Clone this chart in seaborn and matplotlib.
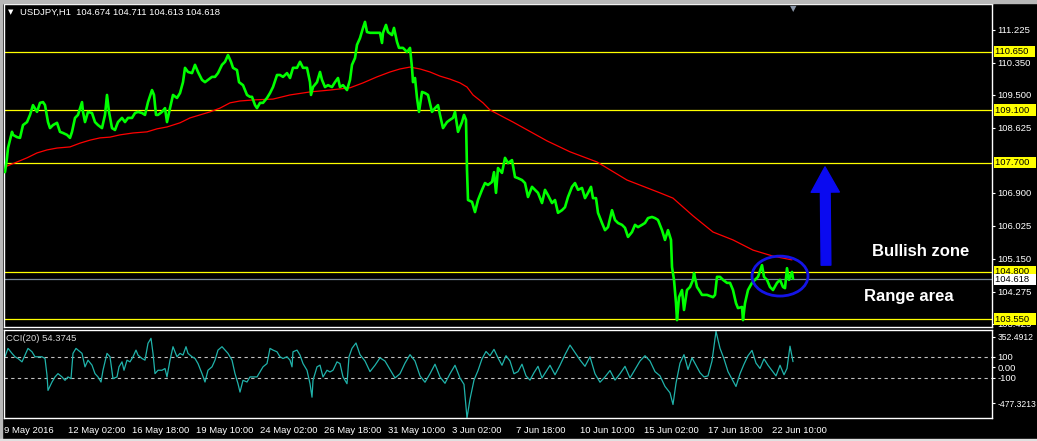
import matplotlib
matplotlib.use("Agg")
import matplotlib.pyplot as plt
from matplotlib.patches import Ellipse, Rectangle
from matplotlib.transforms import blended_transform_factory
import pandas as pd
import seaborn as sns

# hourly bars counted from the chart origin (left edge of the window)
hours = [5, 7, 8, 10, 12, 13, 17, 20, 23, 27, 30, 33, 37, 40, 43, 45, 48, 50, 53, 57,
         60, 63, 67, 70, 72, 75, 78, 82, 83, 85, 88, 92, 95, 98, 102, 105, 107, 109, 112, 115,
         118, 122, 125, 128, 132, 135, 138, 142, 145, 148, 152, 154, 156, 158, 162, 165, 167, 170, 173, 177,
         180, 183, 185, 188, 192, 195, 198, 202, 205, 208, 212, 215, 218, 222, 225, 228, 231, 233, 237, 239,
         243, 247, 250,
         252, 255, 257, 260, 263, 267, 270, 273, 277, 280, 283, 287, 290, 293, 297, 300, 303, 307, 310, 311,
         313, 317, 320, 322, 325, 328, 332, 335, 338, 340, 343, 347, 350, 352, 355, 357, 360, 363, 365, 367,
         370, 373, 377, 380, 382, 383, 386, 388, 392, 394, 397, 399, 403, 407, 410, 412, 413, 415, 417, 419,
         422, 425, 428, 432, 435, 438, 440, 443, 447, 450, 453, 455, 458, 462, 464, 466, 467,
         468, 472, 475, 478, 482, 485, 488, 492, 494, 496, 498, 502, 505, 508, 512, 515, 518, 522, 525, 528,
         532, 535, 538, 542, 545, 548, 552, 555, 558, 562, 565, 568, 572, 575, 578, 582, 585, 588, 591, 593,
         596, 598, 602, 605, 608, 612, 615, 618, 622, 625, 628, 632, 635, 638, 642, 645, 648, 652, 655, 658,
         662, 665, 668, 671, 672,
         674, 676, 677, 679, 682, 684, 687, 690, 693, 694, 697, 699, 702, 707, 713, 715, 717, 720, 723, 727,
         730, 733, 736, 738, 742, 743, 745, 748, 752, 755, 758, 762, 764, 767, 770, 773, 777, 780, 783, 785,
         787, 789, 792, 793]
close = [107.45, 107.83, 108.09, 108.30, 108.52, 108.44, 108.38, 108.36, 108.70, 108.78,
         108.97, 109.23, 109.05, 109.29, 109.31, 109.23, 108.78, 108.62, 108.70, 108.76,
         108.52, 108.49, 108.44, 108.36, 108.52, 108.89, 108.97, 109.31, 109.05, 108.78,
         109.05, 109.02, 108.78, 108.70, 108.62, 108.97, 109.50, 109.05, 108.62, 108.57,
         108.78, 108.89, 108.78, 108.89, 108.89, 109.02, 109.05, 109.02, 108.97, 109.31,
         109.63, 109.50, 108.97, 108.97, 109.05, 109.15, 108.78, 109.15, 109.50, 109.42,
         109.55, 109.84, 110.22, 110.11, 110.08, 110.30, 110.11, 109.90, 109.84, 109.90,
         109.98, 109.98, 110.08, 110.30, 110.38, 110.56, 110.38, 110.22, 110.16, 109.84,
         109.76, 109.50, 109.45,
         109.45, 109.23, 109.15, 109.29, 109.29, 109.42, 109.55, 109.71, 110.03, 110.03,
         109.98, 110.08, 109.95, 110.22, 110.22, 110.38, 110.22, 110.22, 109.84, 109.50,
         109.71, 109.84, 110.11, 109.90, 109.71, 109.76, 109.71, 109.84, 109.95, 109.71,
         109.76, 109.63, 109.90, 110.30, 110.48, 110.83, 111.01, 111.28, 111.44, 111.17,
         111.15, 111.15, 111.15, 111.15, 110.88, 111.15, 111.36, 111.17, 111.09, 111.28,
         110.91, 110.75, 110.75, 110.64, 110.75, 110.22, 109.84, 109.95, 109.42, 109.05,
         109.58, 109.55, 109.50, 109.05, 109.15, 109.23, 108.97, 108.62, 108.78, 108.84,
         108.89, 109.05, 108.52, 108.78, 108.97, 108.84, 107.51,
         106.71, 106.66, 106.39, 106.71, 106.98, 107.16, 107.11, 107.19, 107.45, 106.90,
         107.56, 107.43, 107.83, 107.69, 107.77, 107.32, 107.29, 107.24, 107.16, 106.79,
         107.06, 106.98, 106.90, 106.63, 106.98, 106.84, 106.63, 106.71, 106.37, 106.44,
         106.52, 106.79, 107.06, 107.16, 106.98, 107.03, 106.76, 106.90, 107.06, 106.76,
         106.76, 106.37, 106.10, 105.91, 105.99, 106.44, 106.18, 106.10, 106.05, 105.97,
         105.73, 105.86, 106.05, 105.99, 106.05, 106.10, 106.23, 106.26, 106.23, 106.18,
         105.91, 105.65, 105.91, 105.65, 104.93,
         104.59, 103.97, 103.52, 104.13, 104.32, 103.79, 104.32, 104.40, 104.59, 104.77,
         104.40, 104.32, 104.19, 104.19, 104.13, 104.19, 104.67, 104.67, 104.59, 104.51,
         104.51, 104.32, 103.97, 103.84, 103.87, 103.52, 103.97, 104.32, 104.51, 104.59,
         104.67, 104.98, 104.67, 104.59, 104.40, 104.32, 104.51, 104.59, 104.40, 104.37,
         104.90, 104.59, 104.80, 104.618]

# moving average (red)
ma_hours = [5, 17, 27, 37, 47, 57, 70, 80, 90, 100, 110, 120, 133, 147, 157, 167, 180, 190, 200, 210,
            220, 230, 240, 255, 273, 290, 310, 330, 350, 363, 377, 390, 400, 410, 420, 430, 440, 450, 460, 467,
            473, 483, 490, 513, 547, 570, 597, 627, 660, 673, 693, 713, 733, 753, 773, 792]
ma_values = [107.59, 107.72, 107.83, 107.96, 108.04, 108.09, 108.12, 108.22, 108.30, 108.36,
             108.38, 108.44, 108.49, 108.52, 108.60, 108.65, 108.76, 108.89, 108.97, 109.05,
             109.15, 109.29, 109.34, 109.37, 109.39, 109.50, 109.58, 109.63, 109.69, 109.82,
             109.98, 110.11, 110.19, 110.24, 110.19, 110.11, 110.00, 109.92, 109.82, 109.71,
             109.50, 109.29, 109.10, 108.78, 108.28, 107.99, 107.72, 107.24, 106.90, 106.76,
             106.29, 105.86, 105.65, 105.38, 105.22, 105.12]

# CCI(20)
cci_hours = [5, 8, 12, 15, 18, 22, 25, 28, 32, 35, 38, 42, 45, 47, 48, 52, 55, 58, 62, 65,
             68, 71, 73, 76, 78, 82, 85, 88, 92, 95, 98, 101, 103, 107, 110, 113, 117, 119, 122, 124,
             127, 130, 133, 136, 138, 142, 145, 148, 151, 153, 155, 158, 162, 165, 167, 170, 173, 177, 180, 183,
             186, 188, 192, 195, 198, 202, 205, 208, 212, 215, 218, 222, 225, 228, 232, 235, 238, 240, 243, 247,
             250, 253, 257, 260, 263, 267, 270, 273, 277, 280, 283, 287, 290, 292, 293, 297, 300, 303, 307, 310,
             312, 313, 317, 320, 323, 327, 330, 333, 337, 340, 343, 347,
             349, 352, 356, 360, 365, 370, 375, 380, 385, 390, 395, 400, 405, 410, 415, 420, 425, 430, 435, 440,
             445, 450, 455, 460, 464, 467, 470, 474, 478, 482, 486, 490, 494, 498, 502, 506, 510, 514, 518, 522,
             526, 530, 534, 538, 542, 546, 550, 555, 560, 565, 570, 575, 580, 585, 590, 595, 600, 605, 610, 615,
             620, 625, 630, 635, 640, 645, 650, 655, 660, 665, 670, 673, 676, 680, 684, 688, 692, 696, 700, 704,
             708, 712, 716, 720, 724, 728, 732, 736, 740, 744, 748, 752, 756, 760, 764, 768, 772, 776, 780, 784,
             787, 790, 793]
cci_values = [100, 179, 132, 100, 84, 52, 116, 179, 147, 100,
              100, 100, 84, -74, -217, -138, -90, -59, -90, -122,
              -90, -106, 132, 179, 163, 132, 5, 68, 21, -59,
              -90, -138, -27, 132, 100, -106, -90, 5, 52, -27,
              68, 52, 100, 163, 116, 84, 68, 227, 274, 132,
              -59, -27, -27, -11, -90, 68, 195, 100, 132, 116,
              195, 132, 100, 84, 36, -59, -138, -27, 5, 68,
              163, 195, 163, 132, 68, -59, -154, -233, -122, -138,
              -90, -90, -90, -43, 5, 36, 179, 163, 147, 100,
              84, 100, 68, 5, 147, 163, 116, 36, -27, -154,
              -281, -122, 5, 21, -90, -27, -43, -27, 52, 36,
              -90, -154,
              100, 180, 230, 120, 60, -40, 20, 90, 60, -20,
              -100, -60, 40, 120, 60, -80, -140, -60, 30, -90,
              -150, -60, 20, -100, -160, -477, -300, -120, -30, 80,
              150, 110, 170, 90, 20, 110, 60, -60, -40, 30,
              -80, -120, -50, 10, -100, -40, 20, -70, 20, 120,
              210, 140, 70, 10, 100, -60, -140, -90, -30, -120,
              -60, 10, -100, -20, 60, 110, 60, -40, -80, -180,
              -240, -350, -150, 40, 120, -20, 90, 20, -50, -90,
              -80, 60, 340, 180, 80, -40, -110, -180, -60, 30,
              110, 160, 40, -10, 80, 20, -30, -80, 20, -70,
              -10, 200, 54]

levels = [110.650, 109.100, 107.700, 104.800, 103.550]
bid = 104.618
price_ticks = [111.225, 110.350, 109.500, 108.625, 106.900, 106.025, 105.150, 104.275, 103.425]
cci_levels = [100, -100]
cci_max, cci_min = 352.4912, -477.3213

tick_hours = [4, 68, 132, 196, 260, 324, 388, 452, 516, 580, 644, 708, 772]
tick_labels = ["9 May 2016", "12 May 02:00", "16 May 18:00", "19 May 10:00", "24 May 02:00",
               "26 May 18:00", "31 May 10:00", "3 Jun 02:00", "7 Jun 18:00", "10 Jun 10:00",
               "15 Jun 02:00", "17 Jun 18:00", "22 Jun 10:00"]

price = pd.DataFrame({"hour": hours, "close": close})
ma = pd.DataFrame({"hour": ma_hours, "ma": ma_values})
cci = pd.DataFrame({"hour": cci_hours, "cci": cci_values})

sns.set_theme(style="dark", rc={
    "axes.facecolor": "black", "figure.facecolor": "black",
    "axes.edgecolor": "white", "text.color": "white",
    "xtick.color": "white", "ytick.color": "white", "axes.grid": False,
})
plt.rcParams["font.family"] = ["Liberation Sans", "DejaVu Sans"]

W, H = 1037, 441
fig = plt.figure(figsize=(W / 100, H / 100), dpi=100)
ax = fig.add_axes([4 / W, 1 - 327 / H, 988 / W, 323 / H])
cax = fig.add_axes([4 / W, 1 - 418 / H, 988 / W, 88 / H])

# window chrome
fig.patches.append(Rectangle((0, 1 - 3 / H), 1, 3 / H, transform=fig.transFigure, color="#b8b8b8", zorder=0))
fig.patches.append(Rectangle((0, 0), 2 / W, 1, transform=fig.transFigure, color="#b8b8b8", zorder=0))
fig.patches.append(Rectangle((0, 0), 1, 2 / H, transform=fig.transFigure, color="#e0e0e0", zorder=0))

# main price panel
for lvl in levels:
    ax.axhline(lvl, color="#ffff00", lw=0.9, zorder=1)
ax.axhline(bid, color="#778899", lw=0.9, zorder=1)
sns.lineplot(data=ma, x="hour", y="ma", ax=ax, color="#ff0000", lw=0.9,
             estimator=None, sort=False, zorder=2)
sns.lineplot(data=price, x="hour", y="close", ax=ax, color="#00ff00", lw=1.9,
             estimator=None, sort=False, zorder=3)

ax.set_xlim(4, 992)
ax.set_ylim(103.338, 111.915)
ax.set_xticks([])
ax.set_xlabel("")
ax.set_ylabel("")
ax.yaxis.tick_right()
ax.set_yticks(price_ticks)
ax.set_yticklabels([f"{t:.3f}" for t in price_ticks])
ax.tick_params(axis="y", colors="white", labelsize=6.8, length=2.5, width=0.8, pad=1.5)
for s in ax.spines.values():
    s.set_color("white")
    s.set_linewidth(1)

tr = blended_transform_factory(ax.transAxes, ax.transData)
for lvl in levels:
    ax.text(1.003, lvl, f"{lvl:.3f}  ", transform=tr, color="black", fontsize=6.8,
            ha="left", va="center", clip_on=False, zorder=5,
            bbox=dict(facecolor="#ffff00", edgecolor="none", pad=0.9))
ax.text(1.003, bid - 0.02, f"{bid:.3f}  ", transform=tr, color="black", fontsize=6.8,
        ha="left", va="center", clip_on=False, zorder=5,
        bbox=dict(facecolor="white", edgecolor="none", pad=0.9))

# header
fig.text(8 / W, 1 - 12 / H, "▼", fontsize=5, color="white", va="center",
         family=["DejaVu Sans"])
fig.text(20 / W, 1 - 12 / H, "USDJPY,H1  104.674 104.711 104.613 104.618",
         fontsize=6.8, color="white", va="center")
ax.text(793, 111.915, "▼", color="#8a96a8", fontsize=6, ha="center", va="top",
        family=["DejaVu Sans"])

# annotations
ax.add_patch(Ellipse((780, 104.69), 56, 1.06, fill=False, edgecolor="#1414e6", lw=2, zorder=4))
ax.annotate("", xy=(825, 107.59), xytext=(826, 104.98),
            arrowprops=dict(arrowstyle="simple,head_length=1.3,head_width=1.45,tail_width=0.5",
                            color="#0a0af0", mutation_scale=14, shrinkA=0, shrinkB=0))
narrow = ["Liberation Sans Narrow", "Liberation Sans", "DejaVu Sans"]
ax.text(921, 105.356, "Bullish zone", color="white", fontsize=12, fontweight="bold",
        ha="center", va="center", family=narrow)
ax.text(909, 104.16, "Range area", color="white", fontsize=12, fontweight="bold",
        ha="center", va="center", family=narrow)

# CCI panel
for lvl in cci_levels:
    cax.axhline(lvl, color="#c0c0c0", lw=0.8, ls=(0, (3, 3)), zorder=1)
sns.lineplot(data=cci, x="hour", y="cci", ax=cax, color="#20b2aa", lw=0.9,
             estimator=None, sort=False, zorder=2)
cax.set_xlim(4, 992)
cax.set_ylim(cci_min, cci_max)
cax.set_xlabel("")
cax.set_ylabel("")
cax.yaxis.tick_right()
cax.set_yticks([287, 100, 0, -100, -336])
cax.set_yticklabels([f"{cci_max:.4f}", "100", "0.00", "-100", f"{cci_min:.4f}"])
cax.set_xticks(tick_hours)
cax.set_xticklabels(tick_labels, ha="left")
cax.tick_params(axis="y", colors="white", labelsize=6.8, length=2.5, width=0.8, pad=1.5)
cax.tick_params(axis="x", colors="white", labelsize=6.8, length=3, width=0.8, pad=3)
for i in (0, 4):
    cax.get_yticklabels()[i].set_fontsize(6.2)
for s in cax.spines.values():
    s.set_color("white")
    s.set_linewidth(1)
cax.text(6, cci_max - 40, "CCI(20) 54.3745", color="#d8d8d8", fontsize=6.8, ha="left", va="top")

fig.savefig("out.png", dpi=100, facecolor="black")
